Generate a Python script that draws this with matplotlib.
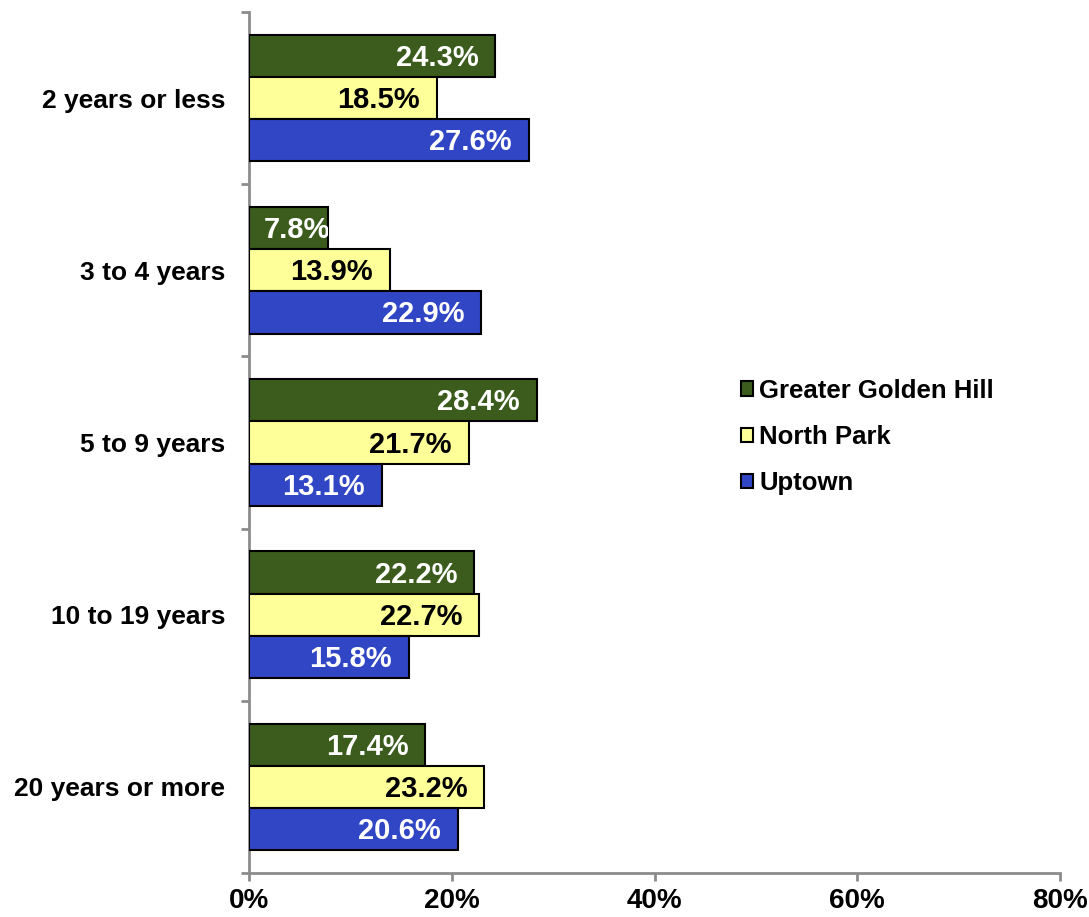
import numpy as np
import matplotlib
matplotlib.use('Agg')
import matplotlib.pyplot as plt

plt.rcParams['font.family'] = ['Liberation Sans', 'DejaVu Sans']
plt.rcParams['font.weight'] = 'bold'

categories = ['2 years or less', '3 to 4 years', '5 to 9 years',
              '10 to 19 years', '20 years or more']
series_names = ['Greater Golden Hill', 'North Park', 'Uptown']
golden_hill = [24.3, 7.8, 28.4, 22.2, 17.4]
north_park = [18.5, 13.9, 21.7, 22.7, 23.2]
uptown = [27.6, 22.9, 13.1, 15.8, 20.6]
x_ticks = [0, 20, 40, 60, 80]

colors = ['#3b5c1d', '#ffff99', '#3046c4']
text_colors = ['white', 'black', 'white']
gray = '#8c8c8c'

fig = plt.figure(figsize=(10.89, 9.17), dpi=100)
ax = fig.add_axes([249/1089, 1 - 873/917, (1060-249)/1089, (873-12)/917])

y = np.arange(len(categories))
h = 0.245
offsets = [-h, 0, h]
for vals, name, col, tcol, off in zip([golden_hill, north_park, uptown],
                                      series_names, colors, text_colors, offsets):
    bars = ax.barh(y + off, vals, height=h, color=col, edgecolor='black',
                   linewidth=1.5, label=name, zorder=3)
    for b, v in zip(bars, vals):
        yc = b.get_y() + b.get_height() / 2
        if v < 10:
            # label does not fit: Excel clips it at the bar end
            t = ax.annotate(f'{v:.1f}%', xy=(0, yc), xytext=(15, -10),
                            textcoords='offset pixels', ha='left', va='baseline',
                            color=tcol, fontsize=21, fontweight='bold', zorder=4)
            t.set_clip_path(b)
        else:
            ax.annotate(f'{v:.1f}%', xy=(v, yc), xytext=(-17, -10),
                        textcoords='offset pixels', ha='right', va='baseline',
                        color=tcol, fontsize=21, fontweight='bold', zorder=4)

ax.set_xlim(0, 80)
ax.set_ylim(len(categories) - 0.5, -0.5)
ax.set_xticks(x_ticks)
ax.set_xticklabels([f'{t}%' for t in x_ticks], fontsize=20, fontweight='bold')
ax.set_yticks(y)
ax.set_yticklabels(categories, fontsize=19, fontweight='bold')
ax.set_yticks(np.arange(len(categories) + 1) - 0.5, minor=True)
ax.tick_params(axis='y', which='major', length=0, pad=17)
ax.tick_params(axis='y', which='minor', length=6, width=2, color=gray, direction='out')
ax.tick_params(axis='x', which='major', length=6, width=2, color=gray, direction='out', pad=5)

for s in ['top', 'right']:
    ax.spines[s].set_visible(False)
for s in ['left', 'bottom']:
    ax.spines[s].set_color(gray)
    ax.spines[s].set_linewidth(2)

leg = ax.legend(loc='upper left', bbox_to_anchor=(0.578, 0.601), frameon=False,
                prop={'size': 18.5, 'weight': 'bold'}, handlelength=0.47,
                handleheight=0.47, handletextpad=0.25, labelspacing=0.86)
for p in leg.get_patches():
    p.set_linewidth(1.5)

fig.savefig('out.png', dpi=100)
